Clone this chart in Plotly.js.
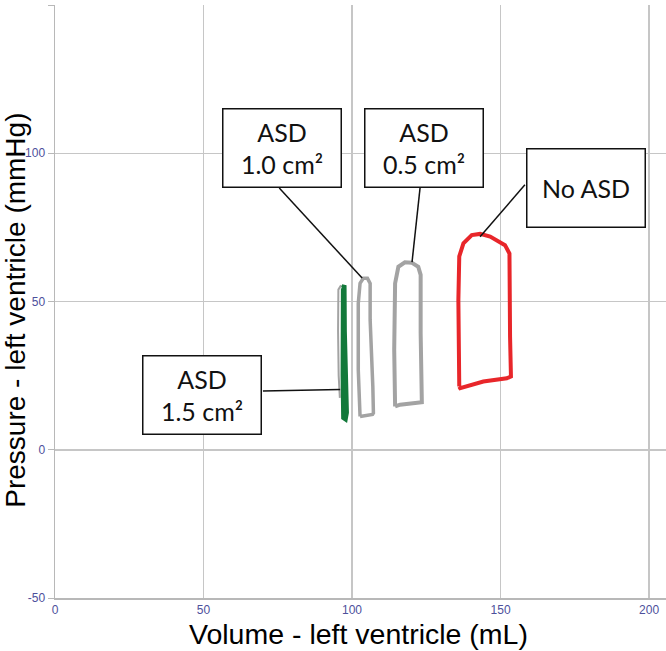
<!DOCTYPE html>
<html>
<head>
<meta charset="utf-8">
<script src="https://cdn.plot.ly/plotly-3.0.1.min.js"></script>
<style>html,body{margin:0;padding:0;background:#fff;}#chart{width:666px;height:651px;}</style>
</head>
<body>
<div id="chart"></div>
<script>
// Pressure-volume loops (volume mL, pressure mmHg)
const noAsdX = [136.1,135.8,136.1,137.5,140.3,143.1,146.5,151.5,153.0,153.0,153.2,153.5,152.1,144.2,136.4,136.1];
const noAsdY = [21.3,50.5,65.2,69.6,72.4,72.8,71.9,69.0,66.2,49.4,38.1,24.7,24.1,23.0,20.8,21.3];
const asd05X = [114.5,114.2,114.5,115.6,117.8,120.1,122.3,123.1,123.1,123.7,123.5,116.2,114.5];
const asd05Y = [14.6,33.7,56.1,61.7,63.2,63.1,61.7,59.0,39.3,18.0,16.0,15.2,14.6];
const asd10X = [102.7,102.1,102.1,102.7,103.8,105.2,106.1,106.1,107.0,107.2,106.9,103.3,102.7];
const asd10Y = [11.2,27.0,49.4,56.1,57.8,57.8,56.1,43.8,21.3,12.4,11.9,11.2,11.2];
const asd15GrayX = [96.3,95.4,95.3,95.5,95.9];
const asd15GrayY = [55.5,54.0,40.0,25.0,17.5];
const asd15X = [97.0,97.4,97.5,97.7,98.2,97.8,97.1,96.9,96.9,97.0];
const asd15Y = [54.5,55.5,40.0,25.0,12.5,10.3,10.8,25.0,40.0,54.5];

// Labels: box centre, leader start, leader end (data coords)
const labelText = ["ASD<br>1.0 cm²","ASD<br>0.5 cm²","No ASD","ASD<br>1.5 cm²"];
const labelX = [76.4,124.1,178.6,49.5];
const labelY = [101.8,101.8,88.3,18.6];
const leadX0 = [75.5,122.9,158.2,70.0];
const leadY0 = [88.3,88.3,89.4,19.8];
const leadX1 = [103.4,120.2,143.1,96.0];
const leadY1 = [57.9,63.3,71.8,20.3];

const xTicks = [0,50,100,150,200];
const yTicks = [-50,0,50,100,150];

const gray = '#a3a3a3';
const traces = [
  {x: asd15GrayX, y: asd15GrayY, mode:'lines', line:{color:gray, width:2}, hoverinfo:'skip'},
  {x: asd15X, y: asd15Y, mode:'lines', fill:'toself', fillcolor:'#12793a', line:{color:'#12793a', width:4.5}, hoverinfo:'skip'},
  {x: asd10X, y: asd10Y, mode:'lines', line:{color:gray, width:3.5}, hoverinfo:'skip'},
  {x: asd05X, y: asd05Y, mode:'lines', line:{color:gray, width:4}, hoverinfo:'skip'},
  {x: noAsdX, y: noAsdY, mode:'lines', line:{color:'#e8262a', width:4}, hoverinfo:'skip'}
];

const annotations = labelText.map((t,i)=>({
  x: labelX[i], y: labelY[i], xref:'x', yref:'y', text: t, showarrow:false,
  font:{family:'Lato, "Open Sans", sans-serif', size:25, color:'#111'},
  bgcolor:'#fff', bordercolor:'#111', borderwidth:1.5, borderpad:0,
  width:117, height:77, align:'center', valign:'middle'
}));
annotations.push({
  xref:'paper', yref:'paper', x:0.496, y:-0.061, xanchor:'center', yanchor:'middle',
  text:'Volume - left ventricle (mL)', showarrow:false,
  font:{family:'"Liberation Sans", Arial, sans-serif', size:28.5, color:'#000'}
});
annotations.push({
  xref:'paper', yref:'paper', x:-0.064, y:0.486, xanchor:'center', yanchor:'middle',
  text:'Pressure - left ventricle (mmHg)', showarrow:false, textangle:-90,
  font:{family:'"Liberation Sans", Arial, sans-serif', size:28, color:'#000'}
});

const shapes = leadX0.map((_,i)=>({
  type:'line', xref:'x', yref:'y', x0: leadX0[i], y0: leadY0[i], x1: leadX1[i], y1: leadY1[i],
  line:{color:'#111', width:1.5}, layer:'above'
}));

const tickFont = {family:'"Liberation Sans", Arial, sans-serif', size:12, color:'#4d509c'};
const layout = {
  width:666, height:651,
  margin:{l:55, r:0, t:5, b:53, pad:0},
  paper_bgcolor:'#fff', plot_bgcolor:'#fff',
  showlegend:false,
  xaxis:{range:[0,205.7], tickvals:xTicks, ticktext:xTicks.map(String), showgrid:true, gridcolor:'#c6c6c6', gridwidth:1.5,
         zeroline:false, showline:true, linecolor:'#b8b8b8', linewidth:1.5, ticks:'', tickfont:tickFont, fixedrange:true},
  yaxis:{range:[-50,150], tickvals:yTicks, ticktext:yTicks.map(String), showgrid:true, gridcolor:'#c6c6c6', gridwidth:1.5,
         zeroline:false, showline:true, linecolor:'#b8b8b8', linewidth:1.5, ticks:'outside', ticklen:6, tickcolor:'#b8b8b8',
         tickfont:tickFont, fixedrange:true},
  annotations: annotations,
  shapes: shapes
};
Plotly.newPlot('chart', traces, layout, {displayModeBar:false, staticPlot:true});
</script>
</body>
</html>
